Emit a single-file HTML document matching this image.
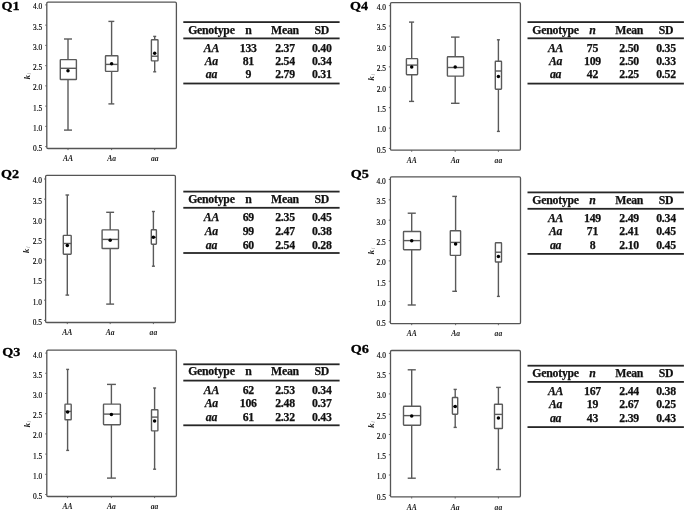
<!DOCTYPE html>
<html><head><meta charset="utf-8"><title>Genotype box plots Q1-Q6</title>
<style>
html,body{margin:0;padding:0;background:#fff;}
body{width:685px;height:510px;overflow:hidden;}
svg{display:block;}
text{font-family:"Liberation Serif",serif;fill:#111;}
.ql{font-weight:bold;font-size:13.5px;fill:#000;stroke:#000;stroke-width:0.3px;}
.tk{font-size:7.4px;text-anchor:end;fill:#000;stroke:#000;stroke-width:0.15px;}
.xl{font-size:7.6px;font-style:italic;font-weight:bold;text-anchor:middle;fill:#222;}
.yl{font-size:8.6px;font-style:italic;font-weight:bold;text-anchor:middle;fill:#222;}
.ys{font-size:6px;font-weight:normal;fill:#999;}
.tb{font-weight:bold;font-size:11.8px;letter-spacing:-0.25px;stroke:#111;stroke-width:0.25px;text-anchor:middle;fill:#111;}
.it{font-style:italic;}
</style></head>
<body>
<svg width="685" height="510" viewBox="0 0 685 510">
<rect width="685" height="510" fill="#fff"/>
<text class="ql" transform="translate(1.6 9.6) scale(1.05 1)">Q1</text>
<rect x="46.8" y="2.2" width="129.6" height="146.3" rx="1.2" fill="none" stroke="#555" stroke-width="1.3"/>
<line x1="45.2" y1="4.9" x2="46.8" y2="4.9" stroke="#5a5a5a" stroke-width="0.9"/>
<text class="tk" x="42.2" y="9.3">4.0</text>
<line x1="45.2" y1="25.14" x2="46.8" y2="25.14" stroke="#5a5a5a" stroke-width="0.9"/>
<text class="tk" x="42.2" y="29.54">3.5</text>
<line x1="45.2" y1="45.39" x2="46.8" y2="45.39" stroke="#5a5a5a" stroke-width="0.9"/>
<text class="tk" x="42.2" y="49.79">3.0</text>
<line x1="45.2" y1="65.63" x2="46.8" y2="65.63" stroke="#5a5a5a" stroke-width="0.9"/>
<text class="tk" x="42.2" y="70.03">2.5</text>
<line x1="45.2" y1="85.87" x2="46.8" y2="85.87" stroke="#5a5a5a" stroke-width="0.9"/>
<text class="tk" x="42.2" y="90.27">2.0</text>
<line x1="45.2" y1="106.11" x2="46.8" y2="106.11" stroke="#5a5a5a" stroke-width="0.9"/>
<text class="tk" x="42.2" y="110.51">1.5</text>
<line x1="45.2" y1="126.36" x2="46.8" y2="126.36" stroke="#5a5a5a" stroke-width="0.9"/>
<text class="tk" x="42.2" y="130.76">1.0</text>
<line x1="45.2" y1="146.6" x2="46.8" y2="146.6" stroke="#5a5a5a" stroke-width="0.9"/>
<text class="tk" x="42.2" y="151">0.5</text>
<text class="yl" transform="translate(30.3 76.05) rotate(-90)">k<tspan class="ys" dx="0.6" dy="1">i</tspan></text>
<line x1="68" y1="148.5" x2="68" y2="150.1" stroke="#5a5a5a" stroke-width="0.9"/>
<text class="xl" x="68" y="161.1">AA</text>
<line x1="111.6" y1="148.5" x2="111.6" y2="150.1" stroke="#5a5a5a" stroke-width="0.9"/>
<text class="xl" x="111.6" y="161.1">Aa</text>
<line x1="154.7" y1="148.5" x2="154.7" y2="150.1" stroke="#5a5a5a" stroke-width="0.9"/>
<text class="xl" x="154.7" y="161.1">aa</text>
<line x1="68" y1="39" x2="68" y2="59.6" stroke="#5a5a5a" stroke-width="1.4"/>
<line x1="68" y1="79.5" x2="68" y2="130.1" stroke="#5a5a5a" stroke-width="1.4"/>
<line x1="64" y1="39" x2="72" y2="39" stroke="#5a5a5a" stroke-width="1.4"/>
<line x1="64" y1="130.1" x2="72" y2="130.1" stroke="#5a5a5a" stroke-width="1.4"/>
<rect x="60.3" y="59.6" width="16.1" height="19.9" rx="0.6" fill="#fff" stroke="#5a5a5a" stroke-width="1.4"/>
<line x1="60.3" y1="68.3" x2="76.4" y2="68.3" stroke="#5a5a5a" stroke-width="1.4"/>
<circle cx="68" cy="70.8" r="1.75" fill="#000"/>
<line x1="111.6" y1="21.4" x2="111.6" y2="55.7" stroke="#5a5a5a" stroke-width="1.4"/>
<line x1="111.6" y1="71.4" x2="111.6" y2="103.9" stroke="#5a5a5a" stroke-width="1.4"/>
<line x1="108.4" y1="21.4" x2="114.3" y2="21.4" stroke="#5a5a5a" stroke-width="1.4"/>
<line x1="108.4" y1="103.9" x2="114.3" y2="103.9" stroke="#5a5a5a" stroke-width="1.4"/>
<rect x="105.5" y="55.7" width="12.4" height="15.7" rx="0.6" fill="#fff" stroke="#5a5a5a" stroke-width="1.4"/>
<line x1="105.5" y1="64.4" x2="117.9" y2="64.4" stroke="#5a5a5a" stroke-width="1.4"/>
<circle cx="111.6" cy="63.8" r="1.75" fill="#000"/>
<line x1="154.7" y1="36.4" x2="154.7" y2="39.7" stroke="#5a5a5a" stroke-width="1.4"/>
<line x1="154.7" y1="60.9" x2="154.7" y2="71.8" stroke="#5a5a5a" stroke-width="1.4"/>
<line x1="153.2" y1="36.4" x2="156.2" y2="36.4" stroke="#5a5a5a" stroke-width="1.4"/>
<line x1="153.2" y1="71.8" x2="156.2" y2="71.8" stroke="#5a5a5a" stroke-width="1.4"/>
<rect x="151.4" y="39.7" width="6.6" height="21.2" rx="0.6" fill="#fff" stroke="#5a5a5a" stroke-width="1.4"/>
<line x1="151.4" y1="56.2" x2="158" y2="56.2" stroke="#5a5a5a" stroke-width="1.4"/>
<circle cx="154.7" cy="53.2" r="1.75" fill="#000"/>
<text class="ql" transform="translate(1 178.1) scale(1.05 1)">Q2</text>
<rect x="45.6" y="175.3" width="129.8" height="147.2" rx="1.2" fill="none" stroke="#555" stroke-width="1.3"/>
<line x1="44" y1="179" x2="45.6" y2="179" stroke="#5a5a5a" stroke-width="0.9"/>
<text class="tk" x="41.9" y="183.4">4.0</text>
<line x1="44" y1="199.2" x2="45.6" y2="199.2" stroke="#5a5a5a" stroke-width="0.9"/>
<text class="tk" x="41.9" y="203.6">3.5</text>
<line x1="44" y1="219.4" x2="45.6" y2="219.4" stroke="#5a5a5a" stroke-width="0.9"/>
<text class="tk" x="41.9" y="223.8">3.0</text>
<line x1="44" y1="239.6" x2="45.6" y2="239.6" stroke="#5a5a5a" stroke-width="0.9"/>
<text class="tk" x="41.9" y="244">2.5</text>
<line x1="44" y1="259.8" x2="45.6" y2="259.8" stroke="#5a5a5a" stroke-width="0.9"/>
<text class="tk" x="41.9" y="264.2">2.0</text>
<line x1="44" y1="280" x2="45.6" y2="280" stroke="#5a5a5a" stroke-width="0.9"/>
<text class="tk" x="41.9" y="284.4">1.5</text>
<line x1="44" y1="300.2" x2="45.6" y2="300.2" stroke="#5a5a5a" stroke-width="0.9"/>
<text class="tk" x="41.9" y="304.6">1.0</text>
<line x1="44" y1="320.4" x2="45.6" y2="320.4" stroke="#5a5a5a" stroke-width="0.9"/>
<text class="tk" x="41.9" y="324.8">0.5</text>
<text class="yl" transform="translate(29.1 249.6) rotate(-90)">k<tspan class="ys" dx="0.6" dy="1">i</tspan></text>
<line x1="67.3" y1="322.5" x2="67.3" y2="324.1" stroke="#5a5a5a" stroke-width="0.9"/>
<text class="xl" x="67.3" y="335.1">AA</text>
<line x1="110.2" y1="322.5" x2="110.2" y2="324.1" stroke="#5a5a5a" stroke-width="0.9"/>
<text class="xl" x="110.2" y="335.1">Aa</text>
<line x1="153.4" y1="322.5" x2="153.4" y2="324.1" stroke="#5a5a5a" stroke-width="0.9"/>
<text class="xl" x="153.4" y="335.1">aa</text>
<line x1="67.3" y1="195" x2="67.3" y2="235.4" stroke="#5a5a5a" stroke-width="1.4"/>
<line x1="67.3" y1="254.2" x2="67.3" y2="295.1" stroke="#5a5a5a" stroke-width="1.4"/>
<line x1="65.5" y1="195" x2="69.1" y2="195" stroke="#5a5a5a" stroke-width="1.4"/>
<line x1="65.5" y1="295.1" x2="69.1" y2="295.1" stroke="#5a5a5a" stroke-width="1.4"/>
<rect x="63.3" y="235.4" width="7.9" height="18.8" rx="0.6" fill="#fff" stroke="#5a5a5a" stroke-width="1.4"/>
<line x1="63.3" y1="243.5" x2="71.2" y2="243.5" stroke="#5a5a5a" stroke-width="1.4"/>
<circle cx="67.3" cy="245.4" r="1.75" fill="#000"/>
<line x1="110.2" y1="212.3" x2="110.2" y2="229.9" stroke="#5a5a5a" stroke-width="1.4"/>
<line x1="110.2" y1="248.5" x2="110.2" y2="304.1" stroke="#5a5a5a" stroke-width="1.4"/>
<line x1="106.2" y1="212.3" x2="114.1" y2="212.3" stroke="#5a5a5a" stroke-width="1.4"/>
<line x1="106.2" y1="304.1" x2="114.1" y2="304.1" stroke="#5a5a5a" stroke-width="1.4"/>
<rect x="102.1" y="229.9" width="16.4" height="18.6" rx="0.6" fill="#fff" stroke="#5a5a5a" stroke-width="1.4"/>
<line x1="102.1" y1="239.4" x2="118.5" y2="239.4" stroke="#5a5a5a" stroke-width="1.4"/>
<circle cx="110.2" cy="240.3" r="1.75" fill="#000"/>
<line x1="153.4" y1="211.5" x2="153.4" y2="229.8" stroke="#5a5a5a" stroke-width="1.4"/>
<line x1="153.4" y1="244.2" x2="153.4" y2="266.2" stroke="#5a5a5a" stroke-width="1.4"/>
<line x1="151.9" y1="211.5" x2="154.9" y2="211.5" stroke="#5a5a5a" stroke-width="1.4"/>
<line x1="151.9" y1="266.2" x2="154.9" y2="266.2" stroke="#5a5a5a" stroke-width="1.4"/>
<rect x="151.3" y="229.8" width="5.1" height="14.4" rx="0.6" fill="#fff" stroke="#5a5a5a" stroke-width="1.4"/>
<line x1="151.3" y1="237.2" x2="156.4" y2="237.2" stroke="#5a5a5a" stroke-width="1.4"/>
<circle cx="153.4" cy="237.2" r="1.75" fill="#000"/>
<text class="ql" transform="translate(2.2 355.6) scale(1.05 1)">Q3</text>
<rect x="46.8" y="350.1" width="129.6" height="146.4" rx="1.2" fill="none" stroke="#555" stroke-width="1.3"/>
<line x1="45.2" y1="353.1" x2="46.8" y2="353.1" stroke="#5a5a5a" stroke-width="0.9"/>
<text class="tk" x="42.2" y="357.5">4.0</text>
<line x1="45.2" y1="373.3" x2="46.8" y2="373.3" stroke="#5a5a5a" stroke-width="0.9"/>
<text class="tk" x="42.2" y="377.7">3.5</text>
<line x1="45.2" y1="393.5" x2="46.8" y2="393.5" stroke="#5a5a5a" stroke-width="0.9"/>
<text class="tk" x="42.2" y="397.9">3.0</text>
<line x1="45.2" y1="413.7" x2="46.8" y2="413.7" stroke="#5a5a5a" stroke-width="0.9"/>
<text class="tk" x="42.2" y="418.1">2.5</text>
<line x1="45.2" y1="433.9" x2="46.8" y2="433.9" stroke="#5a5a5a" stroke-width="0.9"/>
<text class="tk" x="42.2" y="438.3">2.0</text>
<line x1="45.2" y1="454.1" x2="46.8" y2="454.1" stroke="#5a5a5a" stroke-width="0.9"/>
<text class="tk" x="42.2" y="458.5">1.5</text>
<line x1="45.2" y1="474.3" x2="46.8" y2="474.3" stroke="#5a5a5a" stroke-width="0.9"/>
<text class="tk" x="42.2" y="478.7">1.0</text>
<line x1="45.2" y1="494.5" x2="46.8" y2="494.5" stroke="#5a5a5a" stroke-width="0.9"/>
<text class="tk" x="42.2" y="498.9">0.5</text>
<text class="yl" transform="translate(30.3 424) rotate(-90)">k<tspan class="ys" dx="0.6" dy="1">i</tspan></text>
<line x1="67.6" y1="496.5" x2="67.6" y2="498.1" stroke="#5a5a5a" stroke-width="0.9"/>
<text class="xl" x="67.6" y="509.1">AA</text>
<line x1="111.4" y1="496.5" x2="111.4" y2="498.1" stroke="#5a5a5a" stroke-width="0.9"/>
<text class="xl" x="111.4" y="509.1">Aa</text>
<line x1="154.6" y1="496.5" x2="154.6" y2="498.1" stroke="#5a5a5a" stroke-width="0.9"/>
<text class="xl" x="154.6" y="509.1">aa</text>
<line x1="67.6" y1="369.4" x2="67.6" y2="404.1" stroke="#5a5a5a" stroke-width="1.4"/>
<line x1="67.6" y1="419.8" x2="67.6" y2="450.4" stroke="#5a5a5a" stroke-width="1.4"/>
<line x1="66.2" y1="369.4" x2="69.1" y2="369.4" stroke="#5a5a5a" stroke-width="1.4"/>
<line x1="66.2" y1="450.4" x2="69.1" y2="450.4" stroke="#5a5a5a" stroke-width="1.4"/>
<rect x="65" y="404.1" width="6.2" height="15.7" rx="0.6" fill="#fff" stroke="#5a5a5a" stroke-width="1.4"/>
<line x1="65" y1="411.4" x2="71.2" y2="411.4" stroke="#5a5a5a" stroke-width="1.4"/>
<circle cx="67.6" cy="412" r="1.75" fill="#000"/>
<line x1="111.4" y1="384.4" x2="111.4" y2="404.1" stroke="#5a5a5a" stroke-width="1.4"/>
<line x1="111.4" y1="424.7" x2="111.4" y2="478.1" stroke="#5a5a5a" stroke-width="1.4"/>
<line x1="107" y1="384.4" x2="115.9" y2="384.4" stroke="#5a5a5a" stroke-width="1.4"/>
<line x1="107" y1="478.1" x2="115.9" y2="478.1" stroke="#5a5a5a" stroke-width="1.4"/>
<rect x="103.5" y="404.1" width="16.9" height="20.6" rx="0.6" fill="#fff" stroke="#5a5a5a" stroke-width="1.4"/>
<line x1="103.5" y1="414.1" x2="120.4" y2="414.1" stroke="#5a5a5a" stroke-width="1.4"/>
<circle cx="111.4" cy="414.4" r="1.75" fill="#000"/>
<line x1="154.6" y1="388" x2="154.6" y2="409.7" stroke="#5a5a5a" stroke-width="1.4"/>
<line x1="154.6" y1="430.9" x2="154.6" y2="469.2" stroke="#5a5a5a" stroke-width="1.4"/>
<line x1="153.1" y1="388" x2="156.1" y2="388" stroke="#5a5a5a" stroke-width="1.4"/>
<line x1="153.1" y1="469.2" x2="156.1" y2="469.2" stroke="#5a5a5a" stroke-width="1.4"/>
<rect x="151.5" y="409.7" width="6.4" height="21.2" rx="0.6" fill="#fff" stroke="#5a5a5a" stroke-width="1.4"/>
<line x1="151.5" y1="417.1" x2="157.9" y2="417.1" stroke="#5a5a5a" stroke-width="1.4"/>
<circle cx="154.6" cy="421" r="1.75" fill="#000"/>
<text class="ql" transform="translate(350 9.6) scale(1.05 1)">Q4</text>
<rect x="390.5" y="2.6" width="129.9" height="147.6" rx="1.2" fill="none" stroke="#555" stroke-width="1.3"/>
<line x1="388.9" y1="5.6" x2="390.5" y2="5.6" stroke="#5a5a5a" stroke-width="0.9"/>
<text class="tk" x="385.9" y="10">4.0</text>
<line x1="388.9" y1="26.01" x2="390.5" y2="26.01" stroke="#5a5a5a" stroke-width="0.9"/>
<text class="tk" x="385.9" y="30.41">3.5</text>
<line x1="388.9" y1="46.43" x2="390.5" y2="46.43" stroke="#5a5a5a" stroke-width="0.9"/>
<text class="tk" x="385.9" y="50.83">3.0</text>
<line x1="388.9" y1="66.84" x2="390.5" y2="66.84" stroke="#5a5a5a" stroke-width="0.9"/>
<text class="tk" x="385.9" y="71.24">2.5</text>
<line x1="388.9" y1="87.26" x2="390.5" y2="87.26" stroke="#5a5a5a" stroke-width="0.9"/>
<text class="tk" x="385.9" y="91.66">2.0</text>
<line x1="388.9" y1="107.67" x2="390.5" y2="107.67" stroke="#5a5a5a" stroke-width="0.9"/>
<text class="tk" x="385.9" y="112.07">1.5</text>
<line x1="388.9" y1="128.09" x2="390.5" y2="128.09" stroke="#5a5a5a" stroke-width="0.9"/>
<text class="tk" x="385.9" y="132.49">1.0</text>
<line x1="388.9" y1="148.5" x2="390.5" y2="148.5" stroke="#5a5a5a" stroke-width="0.9"/>
<text class="tk" x="385.9" y="152.9">0.5</text>
<text class="yl" transform="translate(374 77.1) rotate(-90)">k<tspan class="ys" dx="0.6" dy="1">i</tspan></text>
<line x1="411.7" y1="150.2" x2="411.7" y2="151.8" stroke="#5a5a5a" stroke-width="0.9"/>
<text class="xl" x="411.7" y="162.8">AA</text>
<line x1="455.2" y1="150.2" x2="455.2" y2="151.8" stroke="#5a5a5a" stroke-width="0.9"/>
<text class="xl" x="455.2" y="162.8">Aa</text>
<line x1="498.4" y1="150.2" x2="498.4" y2="151.8" stroke="#5a5a5a" stroke-width="0.9"/>
<text class="xl" x="498.4" y="162.8">aa</text>
<line x1="411.7" y1="22.1" x2="411.7" y2="58.6" stroke="#5a5a5a" stroke-width="1.4"/>
<line x1="411.7" y1="74.7" x2="411.7" y2="101.4" stroke="#5a5a5a" stroke-width="1.4"/>
<line x1="409" y1="22.1" x2="414.1" y2="22.1" stroke="#5a5a5a" stroke-width="1.4"/>
<line x1="409" y1="101.4" x2="414.1" y2="101.4" stroke="#5a5a5a" stroke-width="1.4"/>
<rect x="406.4" y="58.6" width="11.2" height="16.1" rx="0.6" fill="#fff" stroke="#5a5a5a" stroke-width="1.4"/>
<line x1="406.4" y1="65.1" x2="417.6" y2="65.1" stroke="#5a5a5a" stroke-width="1.4"/>
<circle cx="411.7" cy="67.1" r="1.75" fill="#000"/>
<line x1="455.2" y1="37.1" x2="455.2" y2="56.8" stroke="#5a5a5a" stroke-width="1.4"/>
<line x1="455.2" y1="76.1" x2="455.2" y2="103.3" stroke="#5a5a5a" stroke-width="1.4"/>
<line x1="451" y1="37.1" x2="459.5" y2="37.1" stroke="#5a5a5a" stroke-width="1.4"/>
<line x1="451" y1="103.3" x2="459.5" y2="103.3" stroke="#5a5a5a" stroke-width="1.4"/>
<rect x="447.4" y="56.8" width="16.2" height="19.3" rx="0.6" fill="#fff" stroke="#5a5a5a" stroke-width="1.4"/>
<line x1="447.4" y1="67.5" x2="463.6" y2="67.5" stroke="#5a5a5a" stroke-width="1.4"/>
<circle cx="455.2" cy="66.9" r="1.75" fill="#000"/>
<line x1="498.4" y1="39.8" x2="498.4" y2="61.2" stroke="#5a5a5a" stroke-width="1.4"/>
<line x1="498.4" y1="89.2" x2="498.4" y2="131.4" stroke="#5a5a5a" stroke-width="1.4"/>
<line x1="496.9" y1="39.8" x2="499.9" y2="39.8" stroke="#5a5a5a" stroke-width="1.4"/>
<line x1="496.9" y1="131.4" x2="499.9" y2="131.4" stroke="#5a5a5a" stroke-width="1.4"/>
<rect x="495.3" y="61.2" width="6.2" height="28" rx="0.6" fill="#fff" stroke="#5a5a5a" stroke-width="1.4"/>
<line x1="495.3" y1="71" x2="501.5" y2="71" stroke="#5a5a5a" stroke-width="1.4"/>
<circle cx="498.4" cy="76.6" r="1.75" fill="#000"/>
<text class="ql" transform="translate(350.7 178.1) scale(1.05 1)">Q5</text>
<rect x="390.4" y="176.8" width="130.1" height="146.8" rx="1.2" fill="none" stroke="#555" stroke-width="1.3"/>
<line x1="388.8" y1="179.5" x2="390.4" y2="179.5" stroke="#5a5a5a" stroke-width="0.9"/>
<text class="tk" x="385.8" y="183.9">4.0</text>
<line x1="388.8" y1="199.84" x2="390.4" y2="199.84" stroke="#5a5a5a" stroke-width="0.9"/>
<text class="tk" x="385.8" y="204.24">3.5</text>
<line x1="388.8" y1="220.19" x2="390.4" y2="220.19" stroke="#5a5a5a" stroke-width="0.9"/>
<text class="tk" x="385.8" y="224.59">3.0</text>
<line x1="388.8" y1="240.53" x2="390.4" y2="240.53" stroke="#5a5a5a" stroke-width="0.9"/>
<text class="tk" x="385.8" y="244.93">2.5</text>
<line x1="388.8" y1="260.87" x2="390.4" y2="260.87" stroke="#5a5a5a" stroke-width="0.9"/>
<text class="tk" x="385.8" y="265.27">2.0</text>
<line x1="388.8" y1="281.21" x2="390.4" y2="281.21" stroke="#5a5a5a" stroke-width="0.9"/>
<text class="tk" x="385.8" y="285.61">1.5</text>
<line x1="388.8" y1="301.56" x2="390.4" y2="301.56" stroke="#5a5a5a" stroke-width="0.9"/>
<text class="tk" x="385.8" y="305.96">1.0</text>
<line x1="388.8" y1="321.9" x2="390.4" y2="321.9" stroke="#5a5a5a" stroke-width="0.9"/>
<text class="tk" x="385.8" y="326.3">0.5</text>
<text class="yl" transform="translate(373.9 250.9) rotate(-90)">k<tspan class="ys" dx="0.6" dy="1">i</tspan></text>
<line x1="411.7" y1="323.6" x2="411.7" y2="325.2" stroke="#5a5a5a" stroke-width="0.9"/>
<text class="xl" x="411.7" y="336.2">AA</text>
<line x1="455.6" y1="323.6" x2="455.6" y2="325.2" stroke="#5a5a5a" stroke-width="0.9"/>
<text class="xl" x="455.6" y="336.2">Aa</text>
<line x1="498.4" y1="323.6" x2="498.4" y2="325.2" stroke="#5a5a5a" stroke-width="0.9"/>
<text class="xl" x="498.4" y="336.2">aa</text>
<line x1="411.7" y1="213.2" x2="411.7" y2="231.5" stroke="#5a5a5a" stroke-width="1.4"/>
<line x1="411.7" y1="249.7" x2="411.7" y2="305" stroke="#5a5a5a" stroke-width="1.4"/>
<line x1="407.7" y1="213.2" x2="415.8" y2="213.2" stroke="#5a5a5a" stroke-width="1.4"/>
<line x1="407.7" y1="305" x2="415.8" y2="305" stroke="#5a5a5a" stroke-width="1.4"/>
<rect x="403.5" y="231.5" width="17.1" height="18.2" rx="0.6" fill="#fff" stroke="#5a5a5a" stroke-width="1.4"/>
<line x1="403.5" y1="240.6" x2="420.6" y2="240.6" stroke="#5a5a5a" stroke-width="1.4"/>
<circle cx="411.7" cy="240.7" r="1.75" fill="#000"/>
<line x1="455.6" y1="196.4" x2="455.6" y2="230.7" stroke="#5a5a5a" stroke-width="1.4"/>
<line x1="455.6" y1="255.4" x2="455.6" y2="291.3" stroke="#5a5a5a" stroke-width="1.4"/>
<line x1="452.3" y1="196.4" x2="457" y2="196.4" stroke="#5a5a5a" stroke-width="1.4"/>
<line x1="452.3" y1="291.3" x2="457" y2="291.3" stroke="#5a5a5a" stroke-width="1.4"/>
<rect x="450.3" y="230.7" width="10.3" height="24.7" rx="0.6" fill="#fff" stroke="#5a5a5a" stroke-width="1.4"/>
<line x1="450.3" y1="242.4" x2="460.6" y2="242.4" stroke="#5a5a5a" stroke-width="1.4"/>
<circle cx="455.6" cy="244.1" r="1.75" fill="#000"/>
<line x1="498.4" y1="242.7" x2="498.4" y2="242.7" stroke="#5a5a5a" stroke-width="1.4"/>
<line x1="498.4" y1="262" x2="498.4" y2="296.4" stroke="#5a5a5a" stroke-width="1.4"/>
<line x1="496.9" y1="242.7" x2="499.9" y2="242.7" stroke="#5a5a5a" stroke-width="1.4"/>
<line x1="496.9" y1="296.4" x2="499.9" y2="296.4" stroke="#5a5a5a" stroke-width="1.4"/>
<rect x="495.4" y="242.7" width="6.1" height="19.3" rx="0.6" fill="#fff" stroke="#5a5a5a" stroke-width="1.4"/>
<line x1="495.4" y1="252.2" x2="501.5" y2="252.2" stroke="#5a5a5a" stroke-width="1.4"/>
<circle cx="498.4" cy="256.5" r="1.75" fill="#000"/>
<text class="ql" transform="translate(350.7 353.4) scale(1.05 1)">Q6</text>
<rect x="390.5" y="350.5" width="129.9" height="146.4" rx="1.2" fill="none" stroke="#555" stroke-width="1.3"/>
<line x1="388.9" y1="353.4" x2="390.5" y2="353.4" stroke="#5a5a5a" stroke-width="0.9"/>
<text class="tk" x="385.9" y="357.8">4.0</text>
<line x1="388.9" y1="373.67" x2="390.5" y2="373.67" stroke="#5a5a5a" stroke-width="0.9"/>
<text class="tk" x="385.9" y="378.07">3.5</text>
<line x1="388.9" y1="393.94" x2="390.5" y2="393.94" stroke="#5a5a5a" stroke-width="0.9"/>
<text class="tk" x="385.9" y="398.34">3.0</text>
<line x1="388.9" y1="414.21" x2="390.5" y2="414.21" stroke="#5a5a5a" stroke-width="0.9"/>
<text class="tk" x="385.9" y="418.61">2.5</text>
<line x1="388.9" y1="434.49" x2="390.5" y2="434.49" stroke="#5a5a5a" stroke-width="0.9"/>
<text class="tk" x="385.9" y="438.89">2.0</text>
<line x1="388.9" y1="454.76" x2="390.5" y2="454.76" stroke="#5a5a5a" stroke-width="0.9"/>
<text class="tk" x="385.9" y="459.16">1.5</text>
<line x1="388.9" y1="475.03" x2="390.5" y2="475.03" stroke="#5a5a5a" stroke-width="0.9"/>
<text class="tk" x="385.9" y="479.43">1.0</text>
<line x1="388.9" y1="495.3" x2="390.5" y2="495.3" stroke="#5a5a5a" stroke-width="0.9"/>
<text class="tk" x="385.9" y="499.7">0.5</text>
<text class="yl" transform="translate(374 424.4) rotate(-90)">k<tspan class="ys" dx="0.6" dy="1">i</tspan></text>
<line x1="411.7" y1="496.9" x2="411.7" y2="498.5" stroke="#5a5a5a" stroke-width="0.9"/>
<text class="xl" x="411.7" y="509.5">AA</text>
<line x1="455.2" y1="496.9" x2="455.2" y2="498.5" stroke="#5a5a5a" stroke-width="0.9"/>
<text class="xl" x="455.2" y="509.5">Aa</text>
<line x1="498.4" y1="496.9" x2="498.4" y2="498.5" stroke="#5a5a5a" stroke-width="0.9"/>
<text class="xl" x="498.4" y="509.5">aa</text>
<line x1="411.7" y1="369.8" x2="411.7" y2="406.3" stroke="#5a5a5a" stroke-width="1.4"/>
<line x1="411.7" y1="425.2" x2="411.7" y2="478.2" stroke="#5a5a5a" stroke-width="1.4"/>
<line x1="407.7" y1="369.8" x2="415.8" y2="369.8" stroke="#5a5a5a" stroke-width="1.4"/>
<line x1="407.7" y1="478.2" x2="415.8" y2="478.2" stroke="#5a5a5a" stroke-width="1.4"/>
<rect x="403.5" y="406.3" width="17.1" height="18.9" rx="0.6" fill="#fff" stroke="#5a5a5a" stroke-width="1.4"/>
<line x1="403.5" y1="415.6" x2="420.6" y2="415.6" stroke="#5a5a5a" stroke-width="1.4"/>
<circle cx="411.7" cy="416" r="1.75" fill="#000"/>
<line x1="455.2" y1="389.4" x2="455.2" y2="397.5" stroke="#5a5a5a" stroke-width="1.4"/>
<line x1="455.2" y1="414.2" x2="455.2" y2="427.4" stroke="#5a5a5a" stroke-width="1.4"/>
<line x1="453.6" y1="389.4" x2="456.8" y2="389.4" stroke="#5a5a5a" stroke-width="1.4"/>
<line x1="453.6" y1="427.4" x2="456.8" y2="427.4" stroke="#5a5a5a" stroke-width="1.4"/>
<rect x="452.4" y="397.5" width="5.3" height="16.7" rx="0.6" fill="#fff" stroke="#5a5a5a" stroke-width="1.4"/>
<line x1="452.4" y1="406.5" x2="457.7" y2="406.5" stroke="#5a5a5a" stroke-width="1.4"/>
<circle cx="455.2" cy="406.5" r="1.75" fill="#000"/>
<line x1="498.4" y1="387.4" x2="498.4" y2="404.2" stroke="#5a5a5a" stroke-width="1.4"/>
<line x1="498.4" y1="428.5" x2="498.4" y2="469.5" stroke="#5a5a5a" stroke-width="1.4"/>
<line x1="496.1" y1="387.4" x2="500.8" y2="387.4" stroke="#5a5a5a" stroke-width="1.4"/>
<line x1="496.1" y1="469.5" x2="500.8" y2="469.5" stroke="#5a5a5a" stroke-width="1.4"/>
<rect x="494.5" y="404.2" width="7.9" height="24.3" rx="0.6" fill="#fff" stroke="#5a5a5a" stroke-width="1.4"/>
<line x1="494.5" y1="414.4" x2="502.4" y2="414.4" stroke="#5a5a5a" stroke-width="1.4"/>
<circle cx="498.4" cy="417.9" r="1.75" fill="#000"/>
<rect x="183.3" y="21.2" width="156.3" height="1.8" fill="#262626"/>
<rect x="183.3" y="37.5" width="156.3" height="1.8" fill="#262626"/>
<rect x="183.3" y="82.6" width="156.3" height="1.8" fill="#262626"/>
<text class="tb" x="211.4" y="33.8">Genotype</text>
<text class="tb" x="248.3" y="33.8">n</text>
<text class="tb" x="285" y="33.8">Mean</text>
<text class="tb" x="321.8" y="33.8">SD</text>
<text class="tb it" x="211.4" y="51.5">AA</text>
<text class="tb" x="248.3" y="51.5">133</text>
<text class="tb" x="285" y="51.5">2.37</text>
<text class="tb" x="321.8" y="51.5">0.40</text>
<text class="tb it" x="211.4" y="64.7">Aa</text>
<text class="tb" x="248.3" y="64.7">81</text>
<text class="tb" x="285" y="64.7">2.54</text>
<text class="tb" x="321.8" y="64.7">0.34</text>
<text class="tb it" x="211.4" y="77.6">aa</text>
<text class="tb" x="248.3" y="77.6">9</text>
<text class="tb" x="285" y="77.6">2.79</text>
<text class="tb" x="321.8" y="77.6">0.31</text>
<rect x="183.3" y="190.7" width="156.3" height="1.8" fill="#262626"/>
<rect x="183.3" y="206.9" width="156.3" height="1.8" fill="#262626"/>
<rect x="183.3" y="252.1" width="156.3" height="1.8" fill="#262626"/>
<text class="tb" x="211.4" y="203">Genotype</text>
<text class="tb" x="248.3" y="203">n</text>
<text class="tb" x="285" y="203">Mean</text>
<text class="tb" x="321.8" y="203">SD</text>
<text class="tb it" x="211.4" y="220.9">AA</text>
<text class="tb" x="248.3" y="220.9">69</text>
<text class="tb" x="285" y="220.9">2.35</text>
<text class="tb" x="321.8" y="220.9">0.45</text>
<text class="tb it" x="211.4" y="234.7">Aa</text>
<text class="tb" x="248.3" y="234.7">99</text>
<text class="tb" x="285" y="234.7">2.47</text>
<text class="tb" x="321.8" y="234.7">0.38</text>
<text class="tb it" x="211.4" y="248.5">aa</text>
<text class="tb" x="248.3" y="248.5">60</text>
<text class="tb" x="285" y="248.5">2.54</text>
<text class="tb" x="321.8" y="248.5">0.28</text>
<rect x="183.3" y="363.4" width="156.3" height="1.8" fill="#262626"/>
<rect x="183.3" y="379.7" width="156.3" height="1.8" fill="#262626"/>
<rect x="183.3" y="424.4" width="156.3" height="1.8" fill="#262626"/>
<text class="tb" x="211.4" y="375.4">Genotype</text>
<text class="tb" x="248.3" y="375.4">n</text>
<text class="tb" x="285" y="375.4">Mean</text>
<text class="tb" x="321.8" y="375.4">SD</text>
<text class="tb it" x="211.4" y="393.5">AA</text>
<text class="tb" x="248.3" y="393.5">62</text>
<text class="tb" x="285" y="393.5">2.53</text>
<text class="tb" x="321.8" y="393.5">0.34</text>
<text class="tb it" x="211.4" y="407.1">Aa</text>
<text class="tb" x="248.3" y="407.1">106</text>
<text class="tb" x="285" y="407.1">2.48</text>
<text class="tb" x="321.8" y="407.1">0.37</text>
<text class="tb it" x="211.4" y="420.8">aa</text>
<text class="tb" x="248.3" y="420.8">61</text>
<text class="tb" x="285" y="420.8">2.32</text>
<text class="tb" x="321.8" y="420.8">0.43</text>
<rect x="527.5" y="21.2" width="156.4" height="1.8" fill="#262626"/>
<rect x="527.5" y="37.4" width="156.4" height="1.8" fill="#262626"/>
<rect x="527.5" y="82.7" width="156.4" height="1.8" fill="#262626"/>
<text class="tb" x="555.6" y="33.8">Genotype</text>
<text class="tb it" x="592.5" y="33.8">n</text>
<text class="tb" x="629.2" y="33.8">Mean</text>
<text class="tb" x="666" y="33.8">SD</text>
<text class="tb it" x="555.6" y="51.6">AA</text>
<text class="tb" x="592.5" y="51.6">75</text>
<text class="tb" x="629.2" y="51.6">2.50</text>
<text class="tb" x="666" y="51.6">0.35</text>
<text class="tb it" x="555.6" y="64.9">Aa</text>
<text class="tb" x="592.5" y="64.9">109</text>
<text class="tb" x="629.2" y="64.9">2.50</text>
<text class="tb" x="666" y="64.9">0.33</text>
<text class="tb it" x="555.6" y="77.6">aa</text>
<text class="tb" x="592.5" y="77.6">42</text>
<text class="tb" x="629.2" y="77.6">2.25</text>
<text class="tb" x="666" y="77.6">0.52</text>
<rect x="527.5" y="191.5" width="156.4" height="1.8" fill="#262626"/>
<rect x="527.5" y="207.9" width="156.4" height="1.8" fill="#262626"/>
<rect x="527.5" y="253" width="156.4" height="1.8" fill="#262626"/>
<text class="tb" x="555.6" y="204.1">Genotype</text>
<text class="tb it" x="592.5" y="204.1">n</text>
<text class="tb" x="629.2" y="204.1">Mean</text>
<text class="tb" x="666" y="204.1">SD</text>
<text class="tb it" x="555.6" y="222">AA</text>
<text class="tb" x="592.5" y="222">149</text>
<text class="tb" x="629.2" y="222">2.49</text>
<text class="tb" x="666" y="222">0.34</text>
<text class="tb it" x="555.6" y="235.3">Aa</text>
<text class="tb" x="592.5" y="235.3">71</text>
<text class="tb" x="629.2" y="235.3">2.41</text>
<text class="tb" x="666" y="235.3">0.45</text>
<text class="tb it" x="555.6" y="248.7">aa</text>
<text class="tb" x="592.5" y="248.7">8</text>
<text class="tb" x="629.2" y="248.7">2.10</text>
<text class="tb" x="666" y="248.7">0.45</text>
<rect x="527.5" y="364.8" width="156.4" height="1.8" fill="#262626"/>
<rect x="527.5" y="381" width="156.4" height="1.8" fill="#262626"/>
<rect x="527.5" y="426.2" width="156.4" height="1.8" fill="#262626"/>
<text class="tb" x="555.6" y="377.1">Genotype</text>
<text class="tb it" x="592.5" y="377.1">n</text>
<text class="tb" x="629.2" y="377.1">Mean</text>
<text class="tb" x="666" y="377.1">SD</text>
<text class="tb it" x="555.6" y="394.8">AA</text>
<text class="tb" x="592.5" y="394.8">167</text>
<text class="tb" x="629.2" y="394.8">2.44</text>
<text class="tb" x="666" y="394.8">0.38</text>
<text class="tb it" x="555.6" y="407.9">Aa</text>
<text class="tb" x="592.5" y="407.9">19</text>
<text class="tb" x="629.2" y="407.9">2.67</text>
<text class="tb" x="666" y="407.9">0.25</text>
<text class="tb it" x="555.6" y="421.6">aa</text>
<text class="tb" x="592.5" y="421.6">43</text>
<text class="tb" x="629.2" y="421.6">2.39</text>
<text class="tb" x="666" y="421.6">0.43</text>
</svg>
</body></html>
